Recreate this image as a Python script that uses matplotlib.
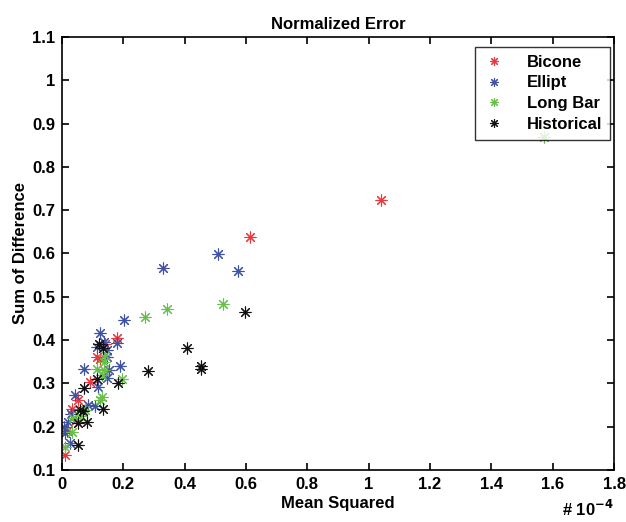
import matplotlib
matplotlib.use("Agg")
import matplotlib.pyplot as plt

# values (x in units of 1e-4)
bicone_x = [1.04, 0.612, 0.18, 0.124, 0.14, 0.091, 0.052, 0.033, 0.045, 0.015, 0.01, 0.115]
bicone_y = [0.723, 0.638, 0.405, 0.355, 0.39, 0.303, 0.262, 0.241, 0.215, 0.19, 0.135, 0.36]

ellipt_x = [0.329, 0.508, 0.573, 0.202, 0.124, 0.18, 0.137, 0.114, 0.147, 0.147, 0.072, 0.153,
            0.19, 0.147, 0.117, 0.042, 0.085, 0.107, 0.02, 0.01, 0.026, 0.005, 0.03]
ellipt_y = [0.567, 0.599, 0.56, 0.446, 0.416, 0.393, 0.396, 0.384, 0.377, 0.361, 0.333, 0.331,
            0.34, 0.312, 0.292, 0.273, 0.25, 0.248, 0.211, 0.185, 0.162, 0.2, 0.23]

longbar_x = [1.57, 0.524, 0.342, 0.27, 0.195, 0.14, 0.137, 0.114, 0.137, 0.13, 0.124, 0.075,
             0.036, 0.033, 0.01, 0.06, 0.13]
longbar_y = [0.868, 0.483, 0.472, 0.453, 0.31, 0.366, 0.35, 0.333, 0.331, 0.269, 0.262, 0.239,
             0.22, 0.188, 0.153, 0.225, 0.32]

hist_x = [0.596, 0.407, 0.453, 0.453, 0.28, 0.182, 0.134, 0.114, 0.072, 0.134, 0.059, 0.052,
          0.081, 0.052, 0.12, 0.07]
hist_y = [0.465, 0.382, 0.34, 0.334, 0.328, 0.30, 0.382, 0.31, 0.289, 0.241, 0.239, 0.209,
          0.211, 0.158, 0.39, 0.235]

x_ticks = [0, 0.2, 0.4, 0.6, 0.8, 1, 1.2, 1.4, 1.6, 1.8]
y_ticks = [0.1, 0.2, 0.3, 0.4, 0.5, 0.6, 0.7, 0.8, 0.9, 1, 1.1]

RED = "#e8373f"
BLUE = "#3f51a3"
GREEN = "#6abf4b"
BLACK = "#111111"

plt.rcParams["font.family"] = ["Liberation Sans", "DejaVu Sans"]
plt.rcParams["font.weight"] = "bold"

fig = plt.figure(figsize=(6.26, 5.22), dpi=100)
ax = fig.add_axes([0.099, 0.1, 0.882, 0.829])

star = (8, 2, 0)
for xs, ys, color, name in [
    (bicone_x, bicone_y, RED, "Bicone"),
    (ellipt_x, ellipt_y, BLUE, "Ellipt"),
    (longbar_x, longbar_y, GREEN, "Long Bar"),
    (hist_x, hist_y, BLACK, "Historical"),
]:
    ax.plot(xs, ys, linestyle="none", marker=star, markersize=8.5, markeredgewidth=0.8,
            color=color, label=name)

ax.set_xlim(0, 1.8)
ax.set_ylim(0.1, 1.1)
ax.set_xticks(x_ticks)
ax.set_xticklabels([f"{t:g}" for t in x_ticks])
ax.set_yticks(y_ticks)
ax.set_yticklabels([f"{t:g}" for t in y_ticks])
ax.tick_params(direction="in", top=True, right=True, labelsize=12, length=5, width=1.2, pad=5)
for spine in ax.spines.values():
    spine.set_linewidth(1.2)

ax.set_title("Normalized Error", fontsize=12, fontweight="bold", pad=6)
ax.set_xlabel("Mean Squared", fontsize=12, fontweight="bold", labelpad=3)
ax.set_ylabel("Sum of Difference", fontsize=12, fontweight="bold", labelpad=3)
fig.text(0.98, 0.005, r"# 10$^{\mathbf{-4}}$", ha="right", va="bottom", fontsize=12, fontweight="bold")

leg = ax.legend(loc="upper right", bbox_to_anchor=(0.993, 0.977), borderaxespad=0,
                fontsize=12, fancybox=False, edgecolor="black",
                handlelength=1.4, handletextpad=1.3, labelspacing=0.35, borderpad=0.45,
                markerscale=0.75)
leg.get_frame().set_linewidth(1.0)

fig.savefig("out.png", dpi=100)
